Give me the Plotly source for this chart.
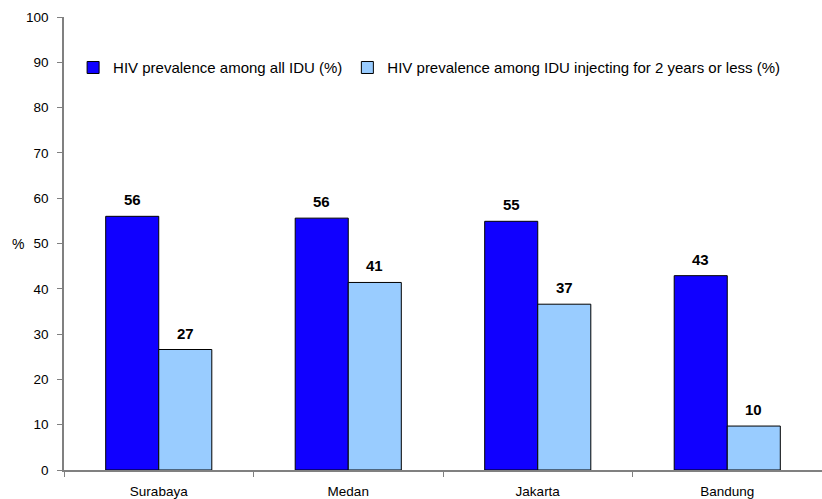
import plotly.graph_objects as go

cities = ["Surabaya", "Medan", "Jakarta", "Bandung"]
all_idu = [56.0, 55.6, 54.9, 42.9]
recent_idu = [26.6, 41.4, 36.6, 9.7]
series_names = [
    "HIV prevalence among all IDU (%)",
    "HIV prevalence among IDU injecting for 2 years or less (%)",
]
y_ticks = list(range(0, 101, 10))

dark_blue = "#1000FF"
light_blue = "#99CCFF"
bar_gap = 0.44
half_bar = (1 - bar_gap) / 4
FONT = "Arial, Liberation Sans, sans-serif"

fig = go.Figure()
for name, vals, col in [(series_names[0], all_idu, dark_blue),
                        (series_names[1], recent_idu, light_blue)]:
    fig.add_trace(go.Bar(
        x=cities, y=vals, name=name,
        marker=dict(color=col, line=dict(color="#000000", width=1)),
    ))

# value labels above each bar
for i, city in enumerate(cities):
    for vals, off in [(all_idu, -half_bar), (recent_idu, half_bar)]:
        fig.add_annotation(
            x=i + off, y=vals[i], xref="x", yref="y",
            text=f"<b>{round(vals[i])}</b>", showarrow=False,
            yanchor="bottom", yshift=6,
            font=dict(family=FONT, size=15, color="#000000"),
        )

fig.add_annotation(
    x=-0.061, y=50, xref="paper", yref="y", text="%", showarrow=False,
    xanchor="center", font=dict(family=FONT, size=14, color="#000000"),
)

fig.update_layout(
    width=822, height=499,
    margin=dict(l=64, r=0, t=17, b=27),
    paper_bgcolor="white", plot_bgcolor="white",
    barmode="group", bargap=bar_gap, bargroupgap=0,
    font=dict(family=FONT, size=13, color="#000000"),
    showlegend=True,
    legend=dict(
        orientation="h", x=0.012, y=0.888, xanchor="left", yanchor="middle",
        font=dict(size=15), bgcolor="rgba(0,0,0,0)", traceorder="normal",
    ),
)
fig.update_xaxes(
    showline=True, linecolor="#808080", linewidth=1.5,
    ticks="outside", ticklen=5, tickcolor="#808080", tickson="boundaries",
    showgrid=False, tickfont=dict(size=13.5), ticklabelstandoff=8, range=[-0.5, 3.5],
)
fig.update_yaxes(
    range=[0, 100], tickvals=y_ticks, showline=True, linecolor="#808080", linewidth=1.5,
    ticks="outside", ticklen=5, tickcolor="#808080", showgrid=False, zeroline=False,
    tickfont=dict(size=13.5), ticklabelstandoff=6,
)

fig.write_html("out.html")
